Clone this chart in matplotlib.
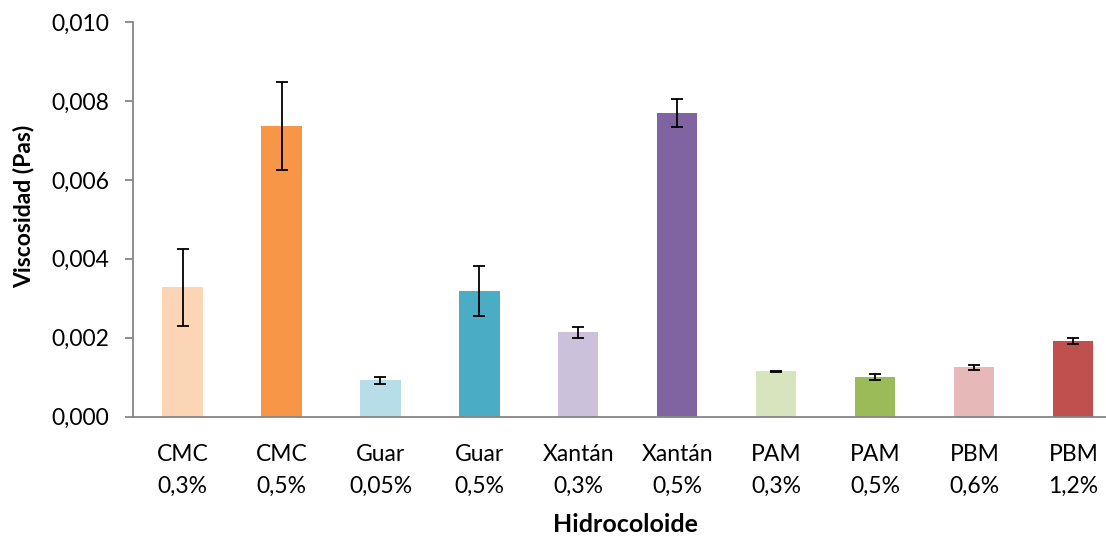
import matplotlib
matplotlib.use("Agg")
import matplotlib.pyplot as plt
from matplotlib.ticker import FuncFormatter, MultipleLocator

plt.rcParams['font.family'] = ['Lato', 'DejaVu Sans']

categories = ["CMC\n0,3%", "CMC\n0,5%", "Guar\n0,05%", "Guar\n0,5%", "Xantán\n0,3%",
              "Xantán\n0,5%", "PAM\n0,3%", "PAM\n0,5%", "PBM\n0,6%", "PBM\n1,2%"]
values = [0.00328, 0.00737, 0.00092, 0.00318, 0.00214, 0.00769, 0.00115, 0.00100, 0.00125, 0.00192]
errors = [0.00098, 0.00112, 0.00009, 0.00063, 0.00014, 0.00035, 0.00002, 0.00007, 0.00007, 0.00008]
colors = ["#FCD5B5", "#F79646", "#B7DEE8", "#4BACC6", "#CCC1DA",
          "#8064A2", "#D7E4BD", "#9BBB59", "#E6B9B8", "#C0504D"]

fig = plt.figure(figsize=(11.06, 5.37), dpi=100)
ax = fig.add_axes([0.1203, 0.224, 0.8797, 0.735])

x = list(range(len(categories)))
ax.bar(x, values, width=0.405, color=colors, zorder=2)
ax.errorbar(x, values, yerr=errors, fmt='none', ecolor='black', elinewidth=1.3,
            capsize=4.5, capthick=1.3, zorder=3)

ax.set_xlim(-0.5, 9.33)
ax.set_ylim(0, 0.010)
ax.yaxis.set_major_locator(MultipleLocator(0.002))
ax.yaxis.set_major_formatter(FuncFormatter(lambda v, p: f"{v:.3f}".replace('.', ',')))
ax.set_xticks(x)
ax.set_xticklabels(categories, fontsize=16.5, linespacing=1.6)

for s in ['top', 'right']:
    ax.spines[s].set_visible(False)
for s in ['left', 'bottom']:
    ax.spines[s].set_color('#868686')
    ax.spines[s].set_linewidth(1.3)

ax.tick_params(axis='y', length=6, width=1.3, color='#868686', labelsize=16.5, pad=11)
ax.tick_params(axis='x', length=0, pad=20)

ax.set_ylabel("Viscosidad (Pas)", fontsize=16.5, fontweight='bold')
ax.set_xlabel("Hidrocoloide", fontsize=18, fontweight='bold')
ax.yaxis.set_label_coords((24 - 133) / 973, 0.532)
ax.xaxis.set_label_coords(0.506, -0.273)
ax.yaxis.label.set_va('center')
ax.xaxis.label.set_va('center')

fig.savefig("out.png", dpi=100)
